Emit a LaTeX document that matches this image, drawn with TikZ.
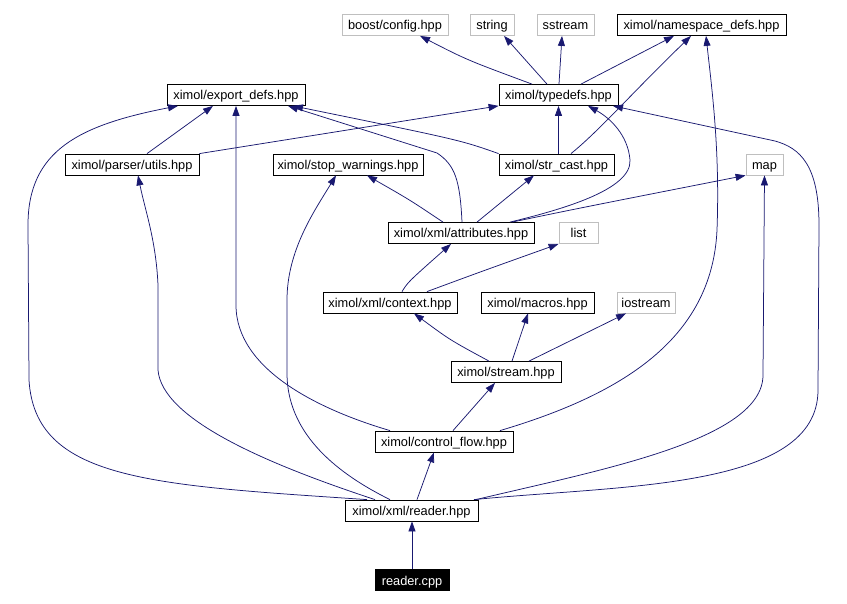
\documentclass[tikz,border=0pt]{standalone}
\usepackage{fontspec}
\setmainfont{Liberation Sans}
\usetikzlibrary{arrows.meta}
\definecolor{edgecol}{HTML}{191970}
\definecolor{syscol}{HTML}{BFBFBF}
\begin{document}
\begin{tikzpicture}[x=1pt,y=-1pt,
  box/.style={draw=black, line width=0.8pt, inner sep=0pt, minimum height=21pt, fill=white,
    text height=12pt, text depth=2pt, font=\fontsize{12.8}{14}\selectfont},
  sysbox/.style={box, draw=syscol},
  rootbox/.style={box, fill=black, text=white},
  edge/.style={draw=edgecol, line width=0.75pt, -{Triangle[length=10pt,width=7pt]}}]
\useasboundingbox (0,0) rectangle (847,604);
% row 1
\node[sysbox, minimum width=106pt] (boost) at (395,25) {boost/config.hpp};
\node[sysbox, minimum width=44pt] (string) at (492,25) {string};
\node[sysbox, minimum width=57pt] (sstream) at (565.5,25) {sstream};
\node[box, minimum width=169pt] (ns) at (701.5,25) {ximol/namespace\_defs.hpp};
% row 2
\node[box, minimum width=138pt] (export) at (236,95) {ximol/export\_defs.hpp};
\node[box, minimum width=119pt] (typedefs) at (558.5,95) {ximol/typedefs.hpp};
% row 3
\node[box, minimum width=134pt] (utils) at (132,164.5) {ximol/parser/utils.hpp};
\node[box, minimum width=150pt] (stopw) at (348,164.5) {ximol/stop\_warnings.hpp};
\node[box, minimum width=115pt] (strcast) at (556.5,164.5) {ximol/str\_cast.hpp};
\node[sysbox, minimum width=37pt] (map) at (764.5,164.5) {map};
% row 4
\node[box, minimum width=146pt] (attrib) at (461,233) {ximol/xml/attributes.hpp};
\node[sysbox, minimum width=39pt] (list) at (578.5,233) {list};
% row 5
\node[box, minimum width=134pt] (context) at (390,302.5) {ximol/xml/context.hpp};
\node[box, minimum width=113pt] (macros) at (537.5,302.5) {ximol/macros.hpp};
\node[sysbox, minimum width=58pt] (iostream) at (646,302.5) {iostream};
% row 6
\node[box, minimum width=110pt] (stream) at (506,372) {ximol/stream.hpp};
% row 7
\node[box, minimum width=138pt] (control) at (444,441.5) {ximol/control\_flow.hpp};
% row 8
\node[box, minimum width=133pt] (reader) at (411.5,510.5) {ximol/xml/reader.hpp};
% row 9
\node[rootbox, minimum width=74pt] (cpp) at (412,580) {reader.cpp};

% edges
\draw[edge] (cpp.north) -- (cpp.north |- reader.south);
\draw[edge] ([xshift=5.5pt]reader.north) -- ([xshift=-10pt]control.south);
\draw[edge] ([xshift=-44.5pt]reader.north) .. controls (150,485) and (35,480) .. (29,380)
  -- (28,225) .. controls (28,150) and (80,125) .. ([xshift=-58pt]export.south);
\draw[edge] ([xshift=-36.5pt]reader.north) .. controls (270,465) and (162,420) .. (158,370)
  -- (158,285) .. controls (156,240) and (145,210) .. ([xshift=6pt]utils.south);
\draw[edge] ([xshift=-21.5pt]reader.north) .. controls (330,470) and (288,430) .. (287,375)
  -- (287,300) .. controls (287,250) and (315,210) .. ([xshift=-12pt]stopw.south);
\draw[edge] ([xshift=62.5pt]reader.north) .. controls (620,485) and (818,490) .. (818,390)
  -- (819,225) .. controls (819,165) and (800,148) .. (775,141) -- ([xshift=54.5pt]typedefs.south);
\draw[edge] ([xshift=64.5pt]reader.north) .. controls (600,470) and (763,440) .. (763,375)
  -- (map.south);
\draw[edge] ([xshift=-54pt]control.north) .. controls (320,410) and (236,370) .. (236,305)
  -- (export.south);
\draw[edge] ([xshift=9pt]control.north) -- ([xshift=-11pt]stream.south);
\draw[edge] ([xshift=56pt]control.north) .. controls (620,395) and (712,340) .. (717,230)
  .. controls (720,150) and (712,90) .. ([xshift=4.5pt]ns.south);
\draw[edge] ([xshift=-17pt]stream.north) .. controls (450,340) .. ([xshift=24pt]context.south);
\draw[edge] ([xshift=6pt]stream.north) -- ([xshift=-9.5pt]macros.south);
\draw[edge] ([xshift=23pt]stream.north) -- ([xshift=-20pt]iostream.south);
\draw[edge] ([xshift=12pt]context.north) .. controls (408,282) .. ([xshift=-10pt]attrib.south);
\draw[edge] ([xshift=37pt]context.north) .. controls (480,272) .. (list.south west);
\draw[edge] ([xshift=-18pt]attrib.north) .. controls (410,200) .. ([xshift=19pt]stopw.south);
\draw[edge] ([xshift=16pt]attrib.north) -- ([xshift=-22.5pt]strcast.south);
\draw[edge] ([xshift=51pt]attrib.north) .. controls (580,208) .. (map.south west);
\draw[edge] ([xshift=1pt]attrib.north) .. controls (460,180) and (455,165) .. (437,153)
  -- ([xshift=52pt]export.south);
\draw[edge] ([xshift=49pt]attrib.north) .. controls (560,210) and (632,190) .. (630,160)
  .. controls (628,135) and (610,118) .. ([xshift=29.5pt]typedefs.south);
\draw[edge] ([xshift=2pt]strcast.north) -- ([xshift=2pt]strcast.north |- typedefs.south);
\draw[edge] ([xshift=14.5pt]strcast.north) .. controls (600,130) and (630,95) .. ([xshift=-10.5pt]ns.south);
\draw[edge] (strcast.north west) .. controls (460,140) .. ([xshift=57pt]export.south);
\draw[edge] ([xshift=15pt]utils.north) -- ([xshift=-23pt]export.south);
\draw[edge] (utils.north east) -- (typedefs.south west);
\draw[edge] ([xshift=-26.5pt]typedefs.north) .. controls (467,60) .. ([xshift=25pt]boost.south);
\draw[edge] ([xshift=-11.5pt]typedefs.north) -- ([xshift=12pt]string.south);
\draw[edge] ([xshift=0.5pt]typedefs.north) -- ([xshift=-3.5pt]sstream.south);
\draw[edge] ([xshift=22.5pt]typedefs.north) -- ([xshift=-27.5pt]ns.south);
\end{tikzpicture}
\end{document}
